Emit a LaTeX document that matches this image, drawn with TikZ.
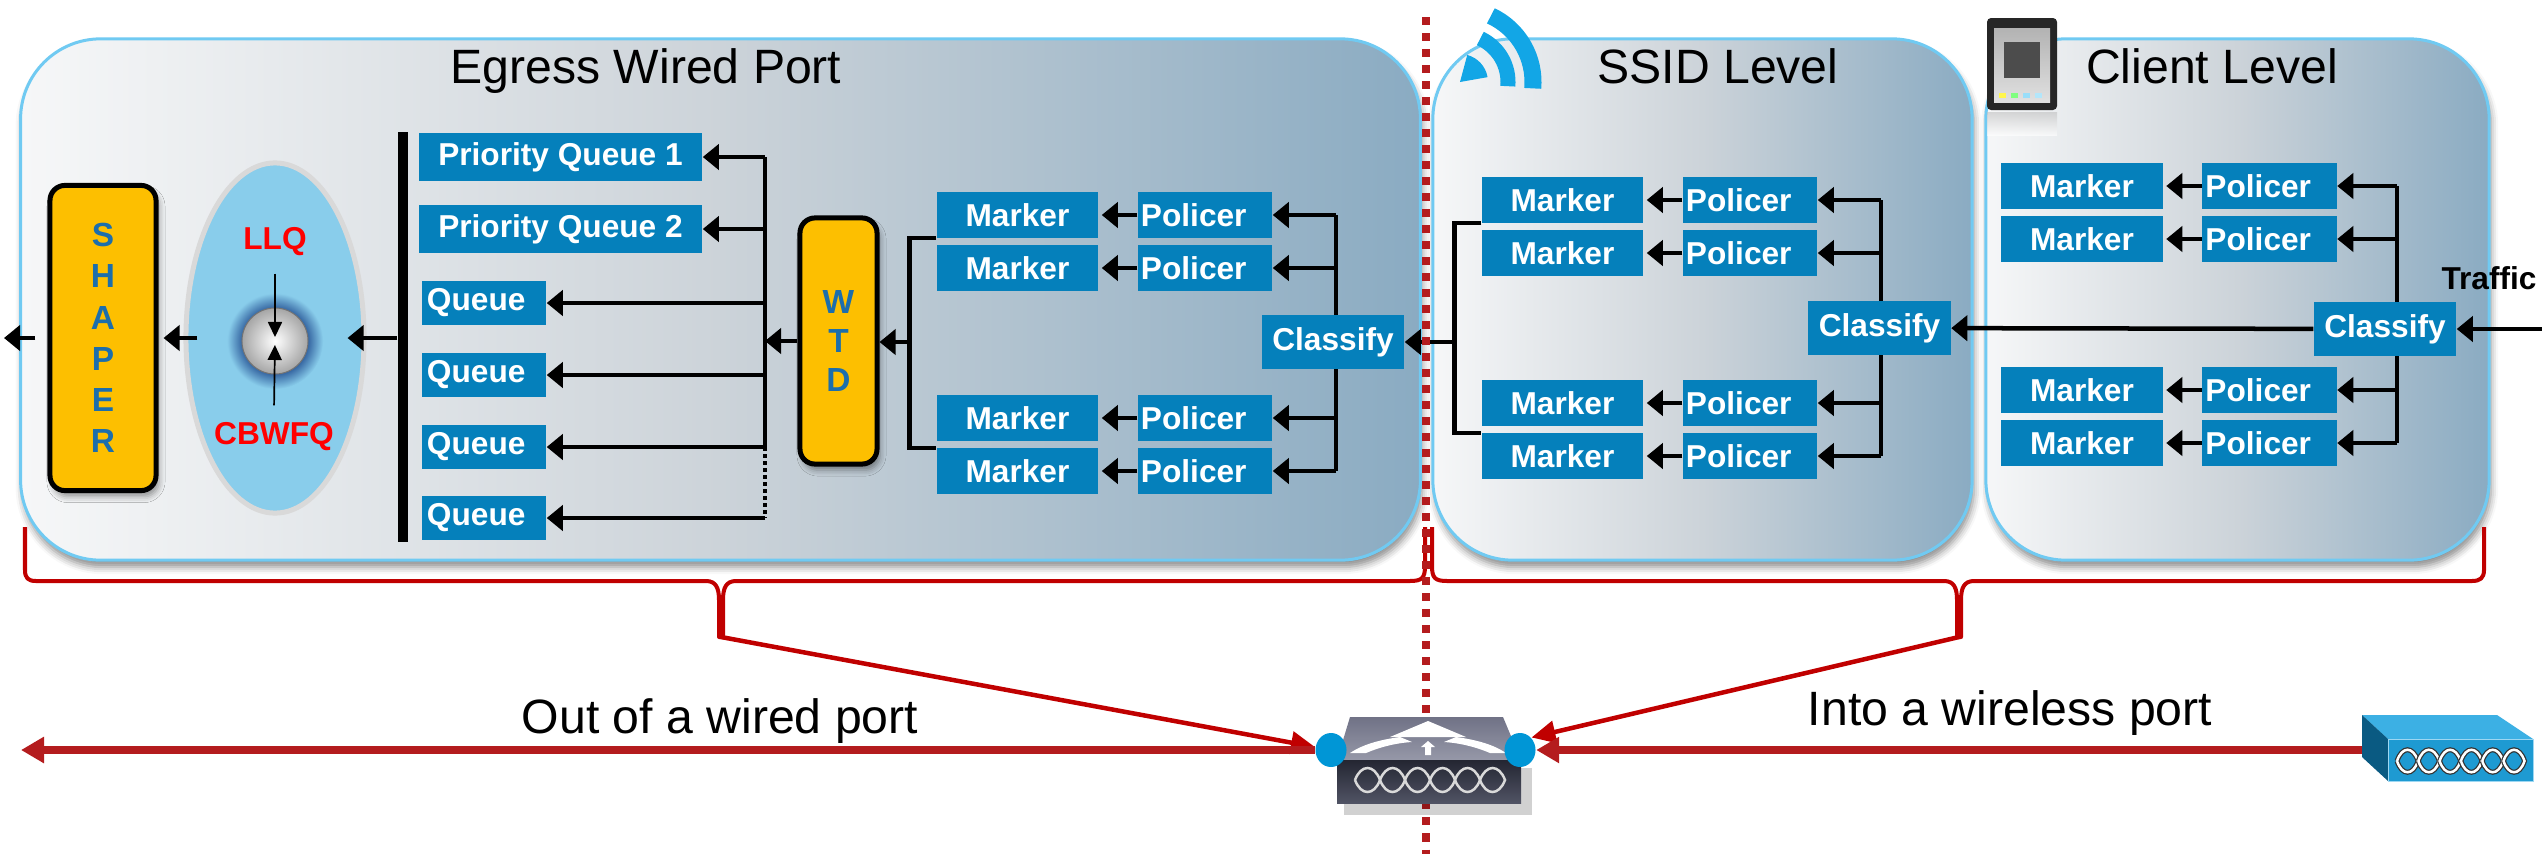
\documentclass[tikz,border=0pt]{standalone}
\usepackage{fontspec}
\setmainfont{Liberation Sans}
\usetikzlibrary{arrows.meta,shapes.geometric,shadows.blur}

\definecolor{boxblue}{RGB}{5,128,187}
\definecolor{gateyellow}{RGB}{253,191,0}
\definecolor{lettblue}{RGB}{28,110,172}
\definecolor{skyfill}{RGB}{137,205,235}
\definecolor{haloblue}{RGB}{52,100,160}
\definecolor{panelline}{RGB}{112,202,242}
\definecolor{panelleft}{RGB}{246,247,248}
\definecolor{panelmid}{RGB}{204,211,217}
\definecolor{panelright}{RGB}{138,171,194}
\definecolor{bracered}{RGB}{192,0,0}
\definecolor{linkred}{RGB}{180,28,30}
\definecolor{labelred}{RGB}{255,0,0}
\definecolor{wifiblue}{RGB}{18,166,230}
\definecolor{portblue}{RGB}{0,150,214}
\definecolor{aptop}{RGB}{60,176,228}
\definecolor{apside}{RGB}{10,90,130}
\definecolor{apfront}{RGB}{30,154,210}
\definecolor{swtopa}{RGB}{112,114,134}
\definecolor{swtopb}{RGB}{150,152,168}
\definecolor{swfronta}{RGB}{36,38,50}
\definecolor{swfrontb}{RGB}{80,83,100}

\pgfdeclareradialshading{halo}{\pgfpointorigin}{color(0bp)=(haloblue); color(17bp)=(haloblue); color(25bp)=(skyfill); color(50bp)=(skyfill)}

\newcommand\boxfont{\fontsize{9}{10}\selectfont\bfseries}
\newcommand\headfont{\fontsize{13.7}{16}\selectfont}

\begin{document}
\begin{tikzpicture}[x=0.01cm, y=-0.01cm,
  panel/.style={draw=panelline, line width=0.03cm, rounded corners=0.8cm,
    left color=panelleft, right color=panelright, middle color=panelmid,
    minimum height=5.21cm, inner sep=0pt,
    blur shadow={shadow xshift=0.02cm, shadow yshift=-0.07cm, shadow blur radius=0.07cm, shadow opacity=45}},
  qbox/.style={fill=boxblue, text=white, font=\boxfont, inner sep=0pt, minimum height=0.45cm},
  markerbox/.style={qbox, minimum width=1.61cm},
  policerbox/.style={qbox, inner xsep=0.03cm, text width=1.28cm, align=left},
  classbox/.style={qbox, minimum width=1.42cm, minimum height=0.54cm},
  gate/.style={fill=gateyellow, draw=black, line width=0.05cm, rounded corners=0.15cm,
    text=lettblue, align=center, inner sep=0pt,
    blur shadow={shadow xshift=0.03cm, shadow yshift=-0.06cm, shadow blur radius=0.06cm}},
  wire/.style={line width=0.045cm},
  arr/.style={wire, -{Triangle[length=0.16cm,width=0.25cm]}},
  thinarr/.style={line width=0.017cm, -{Triangle[length=0.15cm,width=0.14cm]}},
  bracepath/.style={draw=bracered, line width=0.04cm, line join=round},
  redarr/.style={draw=bracered, fill=bracered, line width=0.045cm, -{Triangle[length=0.24cm,width=0.22cm]}},
  fatarr/.style={draw=linkred, line width=0.075cm, -{Triangle[length=0.23cm,width=0.25cm]}}
]
\useasboundingbox (0,0) rectangle (2542,854);

\node[panel, minimum width=13.99cm] (egress) at (720.5,299.5) {};
\node[panel, minimum width=5.39cm] (ssid) at (1702.5,299.5) {};
\node[panel, minimum width=5.03cm] (client) at (2237.5,299.5) {};
\node[font=\headfont, anchor=base] (egt) at (646,83) {Egress Wired Port};
\node[font=\headfont, anchor=base] (sst) at (1718,83) {SSID Level};
\node[font=\headfont, anchor=base] (clt) at (2212,83) {Client Level};

\node[gate, minimum width=1.06cm, minimum height=3.05cm, font=\fontsize{9.5}{11.7}\selectfont\bfseries] (shaper) at (103,338) {S\\H\\A\\P\\E\\R};
\node[ellipse, fill=skyfill, draw=black!15, line width=0.05cm, minimum width=1.78cm, minimum height=3.5cm, inner sep=0pt] (sched) at (275,338) {};
\shade[shading=halo] (275,341) circle[radius=48];
\node[circle, draw=black!55, line width=0.01cm, inner color=white, outer color=black!35, minimum size=0.66cm, inner sep=0pt] (ball) at (275,341) {};
\node[font=\boxfont, text=labelred] (llq) at (275,242) {LLQ};
\node[font=\boxfont, text=labelred] (cbwfq) at (274,437) {CBWFQ};
\draw[thinarr, shorten <=0.05cm, shorten >=0.04cm] (llq.south) -- (ball.center);
\draw[thinarr, shorten <=0.05cm, shorten >=0.04cm] (cbwfq.north) -- (ball.center);
\coordinate (outl) at (4,338);
\draw[arr, shorten <=0.12cm] (shaper.west) -- (outl);
\draw[arr, shorten <=-0.14cm, shorten >=0.05cm] (sched.west) -- (shaper.east);
\node[fill=black, inner sep=0pt, minimum width=0.1cm, minimum height=4.1cm] (bar) at (403,337) {};
\draw[arr, shorten >=-0.19cm] (bar.west |- sched) -- (sched.east);

\node[qbox, minimum width=2.83cm, minimum height=0.48cm] (pq1) at (560.5,157) {Priority Queue 1};
\node[qbox, minimum width=2.83cm, minimum height=0.48cm] (pq2) at (560.5,229) {Priority Queue 2};
\foreach \y [count=\i] in {303,375,447,518}
  \node[qbox, inner xsep=0.05cm, text width=1.14cm, align=left, minimum height=0.44cm] (q\i) at (484,\y) {Queue};
\node[gate, minimum width=0.77cm, minimum height=2.46cm, font=\fontsize{9.5}{11.1}\selectfont\bfseries] (wtd) at (838.5,341) {W\\T\\D};
\coordinate (qt) at (765,341);
\draw[wire] (qt |- pq1) -- (qt |- q3);
\draw[wire, dash pattern=on 0.04cm off 0.03cm] (qt |- q3) -- (qt |- q4);
\foreach \nm in {pq1,pq2,q1,q2,q3,q4}
  \draw[arr] (qt |- \nm) -- (\nm.east);
\draw[arr] (wtd.west) -- (qt);

\foreach \y [count=\i] in {215,268,418,471} {
  \node[markerbox] (em\i) at (1017.5,\y) {Marker};
  \node[policerbox] (ep\i) at (1205,\y) {Policer};
  \draw[arr, shorten >=0.03cm] (ep\i) -- (em\i);
}
\draw[wire] (em1.south west) -- ++(-27,0) |- (em4.north west);
\coordinate (ebr) at (910,342);
\draw[arr] (ebr) -- (ebr -| wtd.east);
\coordinate (et) at (1336,342);
\draw[wire] (et |- ep1) -- (et |- ep4);
\foreach \i in {1,...,4}
  \draw[arr] (et |- ep\i) -- (ep\i.east);
\node[classbox] (ecls) at (1333,342) {Classify};

\foreach \y [count=\i] in {200,253,403,456} {
  \node[markerbox] (sm\i) at (1562.5,\y) {Marker};
  \node[policerbox] (sp\i) at (1750,\y) {Policer};
  \draw[arr, shorten >=0.03cm] (sp\i) -- (sm\i);
}
\draw[wire] (sm1.south west) -- ++(-27,0) |- (sm4.north west);
\coordinate (sbr) at (1455,342);
\draw[arr] (sbr) -- (ecls.east);
\coordinate (st) at (1881,328);
\draw[wire] (st |- sp1) -- (st |- sp4);
\foreach \i in {1,...,4}
  \draw[arr] (st |- sp\i) -- (sp\i.east);
\node[classbox] (scls) at (1879.5,328) {Classify};

\foreach \y [count=\i] in {186,239,390,443} {
  \node[markerbox] (cm\i) at (2082,\y) {Marker};
  \node[policerbox] (cp\i) at (2269.5,\y) {Policer};
  \draw[arr, shorten >=0.03cm] (cp\i) -- (cm\i);
}
\coordinate (ct) at (2397,329);
\draw[wire] (ct |- cp1) -- (ct |- cp4);
\foreach \i in {1,...,4}
  \draw[arr] (ct |- cp\i) -- (cp\i.east);
\node[classbox] (ccls) at (2385,329) {Classify};
\draw[arr] (ccls) -- (scls);
\coordinate (tin) at (2542,329);
\draw[arr] (tin) -- (ccls.east);
\node[font=\boxfont, anchor=base] (traffic) at (2489,289) {Traffic};

\fill[wifiblue] (1460,82) -- ++(-75:28) arc[start angle=-75, end angle=-10, radius=28] -- cycle;
\draw[wifiblue, line width=0.15cm] (1460,82) ++(-65:48) arc[start angle=-65, end angle=5, radius=48];
\draw[wifiblue, line width=0.17cm] (1460,82) ++(-65:73) arc[start angle=-65, end angle=5, radius=73];

\shade[top color=black!25, bottom color=white, opacity=0.6] (1987,112) rectangle (2057,135);
\fill[black!85, rounded corners=0.04cm] (1987,18) rectangle (2057,110);
\shade[top color=black!30, bottom color=black!12] (1994,28) rectangle (2050,102);
\fill[black!70] (2004,42) rectangle (2040,78);
\foreach \x/\c in {1999/yellow!70!white, 2011/green!50!white, 2023/cyan!40!white, 2035/cyan!30!white}
  \fill[\c] (\x,93) rectangle ++(7,5);

\draw[bracepath] (25,527) -- (25,570) .. controls (25,578) and (28,581) .. (36,581) -- (706,581) .. controls (716,581) and (719,588) .. (719,600) -- (719,637) -- (723,637) -- (723,600) .. controls (723,588) and (726,581) .. (736,581) -- (1410,581) .. controls (1422,581) and (1425,578) .. (1425,566) -- (1425,527);
\draw[bracepath] (1432,527) -- (1432,566) .. controls (1432,578) and (1435,581) .. (1447,581) -- (1944,581) .. controls (1954,581) and (1957,588) .. (1957,600) -- (1957,637) -- (1961,637) -- (1961,600) .. controls (1961,588) and (1964,581) .. (1974,581) -- (2472,581) .. controls (2480,581) and (2484,578) .. (2484,570) -- (2484,527);
\coordinate (b1) at (721,637);
\coordinate (b2) at (1959,637);

\draw[draw=linkred, line width=0.075cm, dash pattern=on 0.08cm off 0.08cm] (1426,17) -- (1426,854);

\fill[black, opacity=0.18] (1344,768) rectangle (1532,815);
\shade[top color=swtopa, bottom color=swtopb] (1350,717) -- (1503,717) -- (1521,760) -- (1337,760) -- cycle;
\fill[white] (1390,737) -- (1428,721) -- (1466,737) -- cycle;
\fill[white] (1400,737) .. controls (1378,740) and (1362,745) .. (1350,753) -- (1366,753) .. controls (1380,747) and (1396,743) .. (1412,742) -- cycle;
\fill[white] (1456,737) .. controls (1478,740) and (1494,745) .. (1506,753) -- (1490,753) .. controls (1476,747) and (1460,743) .. (1444,742) -- cycle;
\fill[white] (1428,741) -- (1435,747) -- (1431,747) -- (1431,755) -- (1425,755) -- (1425,747) -- (1421,747) -- cycle;
\shade[top color=swfronta, bottom color=swfrontb] (1337,760) rectangle (1521,803);
\foreach \k in {0,...,5}
  \draw[white!85!black, line width=0.025cm] (1355+25*\k,780) .. controls (1361+25*\k,764) and (1374+25*\k,764) .. (1380+25*\k,780) .. controls (1374+25*\k,796) and (1361+25*\k,796) .. (1355+25*\k,780);
\node[ellipse, fill=portblue, minimum width=0.31cm, minimum height=0.34cm, inner sep=0pt] (portL) at (1331,750) {};
\node[ellipse, fill=portblue, minimum width=0.31cm, minimum height=0.34cm, inner sep=0pt] (portR) at (1520,750) {};

\fill[aptop] (2362,715) -- (2497,715) -- (2533,739) -- (2388,739) -- cycle;
\fill[apside] (2362,715) -- (2388,739) -- (2388,781) -- (2362,757) -- cycle;
\filldraw[fill=apfront, draw=aptop!50!white, line width=0.01cm] (2388,739) rectangle (2533,781);
\foreach \k in {0,...,5} {
  \draw[black!80, line width=0.05cm] (2397+21.3*\k,761) .. controls (2402+21.3*\k,746) and (2413+21.3*\k,746) .. (2418+21.3*\k,761) .. controls (2413+21.3*\k,776) and (2402+21.3*\k,776) .. (2397+21.3*\k,761);
  \draw[white, line width=0.025cm] (2397+21.3*\k,761) .. controls (2402+21.3*\k,746) and (2413+21.3*\k,746) .. (2418+21.3*\k,761) .. controls (2413+21.3*\k,776) and (2402+21.3*\k,776) .. (2397+21.3*\k,761);
}
\coordinate (ap) at (2362,750);
\coordinate (wout) at (21,750);

\draw[redarr] (b1) -- (portL);
\draw[redarr] (b2) -- (portR.north east);
\draw[fatarr] (portL.west) -- (wout);
\draw[fatarr] (ap) -- (portR.east);
\node[font=\headfont, anchor=base] (wiredlbl) at (720,733) {Out of a wired port};
\node[font=\headfont, anchor=base] (wlesslbl) at (2010,725) {Into a wireless port};
\end{tikzpicture}
\end{document}
